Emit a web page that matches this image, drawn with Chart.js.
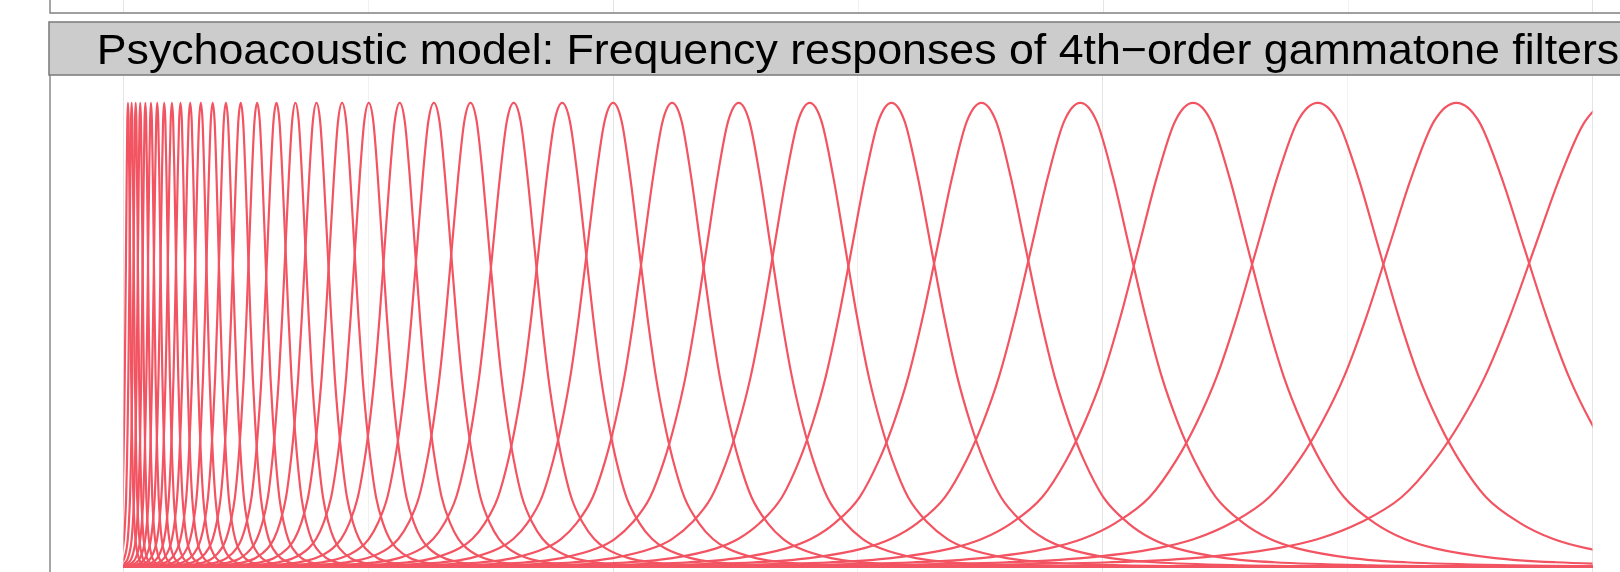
<!DOCTYPE html>
<html>
<head>
<meta charset="utf-8">
<title>Gammatone filter bank</title>
<script src="https://cdn.jsdelivr.net/npm/chart.js@4.4.1/dist/chart.umd.min.js"></script>
<style>
  html, body { margin: 0; padding: 0; background: #fff; overflow: hidden; }
  #gammatoneChart { display: block; }
</style>
</head>
<body>
<canvas id="gammatoneChart" width="1620" height="572"></canvas>
<script>
// Centre frequency of every filter in the bank (Hz), lowest first
var centerHz = [37, 67, 100, 137, 179, 225, 276, 333, 396, 466, 545, 632, 729, 837,
    958, 1092, 1250, 1405, 1577, 1786, 2004, 2257, 2536, 2835, 3188, 3584, 4000,
    4482, 5026, 5606, 6274, 7009, 7817, 8738, 9756, 10889, 12144];

// Bandwidth of each filter (Hz), same order as centerHz
var bandwidthHz = [35, 36, 37, 40, 45, 50, 56, 62, 69, 76, 85, 95, 105, 117,
    131, 145, 163, 180, 199, 222, 246, 274, 304, 337, 376, 420, 466,
    519, 579, 643, 716, 797, 886, 987, 1100, 1224, 1363];

// Magnitude of one filter at a given distance from its centre (in bandwidths)
var bwOffsets = [0, 0.15, 0.3, 0.45, 0.6, 0.75, 0.9, 1.05, 1.25, 1.5, 1.75, 2, 2.5, 3, 4, 5, 7, 10, 15, 25, 60, 200];
var responseLevels = [1, 0.96, 0.84, 0.69, 0.54, 0.41, 0.31, 0.23, 0.15, 0.095, 0.06, 0.04, 0.019, 0.01, 0.0035, 0.0015, 0.0004, 0.0001, 0, 0, 0, 0];

var freqMaxHz = 12000;
var gridStepHz = 2000;
var stripTitle = 'Psychoacoustic model: Frequency responses of 4th\u2212order gammatone filters';

var lineColor = '#F25462';
var frameColor = '#808080';

// one curve per filter, mirrored around its centre
var datasets = centerHz.map(function(fc, i) {
    var pts = [];
    var k;
    for (k = bwOffsets.length - 1; k > 0; k--) {
        pts.push({ x: fc - bwOffsets[k] * bandwidthHz[i], y: responseLevels[k] });
    }
    for (k = 0; k < bwOffsets.length; k++) {
        pts.push({ x: fc + bwOffsets[k] * bandwidthHz[i], y: responseLevels[k] });
    }
    return {
        label: Math.round(fc) + ' Hz',
        data: pts,
        borderColor: lineColor,
        borderWidth: 2.2,
        pointRadius: 0,
        fill: false,
        cubicInterpolationMode: 'monotone'
    };
});

// keep the curves inside the sampled frequency range
var freqClip = {
    id: 'freqClip',
    beforeDatasetsDraw: function(chart) {
        var x = chart.scales.x, a = chart.chartArea, ctx = chart.ctx;
        var x0 = x.getPixelForValue(0), x1 = x.getPixelForValue(freqMaxHz);
        ctx.save();
        ctx.beginPath();
        ctx.rect(x0, a.top, x1 - x0, a.bottom - a.top);
        ctx.clip();
    },
    afterDatasetsDraw: function(chart) {
        chart.ctx.restore();
    }
};

// facet strip, panel border and the bottom edge of the panel above
var facetFrame = {
    id: 'facetFrame',
    afterDraw: function(chart) {
        var x = chart.scales.x, a = chart.chartArea, ctx = chart.ctx;
        var left = a.left;
        var right = x.getPixelForValue(freqMaxHz + 600);
        var stripTop = a.top - 53;
        var abovePanelBottom = a.top - 62;
        ctx.save();

        // grid of the panel above
        for (var v = 0; v <= freqMaxHz; v += gridStepHz) {
            var px = Math.round(x.getPixelForValue(v)) + 0.5;
            ctx.strokeStyle = v % 4000 === 0 ? '#E4E4E4' : '#F1F1F1';
            ctx.lineWidth = 1;
            ctx.beginPath();
            ctx.moveTo(px, 0);
            ctx.lineTo(px, abovePanelBottom);
            ctx.stroke();
        }
        ctx.strokeStyle = frameColor;
        ctx.lineWidth = 1.4;
        ctx.beginPath();
        ctx.moveTo(left, 0);
        ctx.lineTo(left, abovePanelBottom);
        ctx.lineTo(right, abovePanelBottom);
        ctx.stroke();

        // strip
        ctx.fillStyle = '#CCCCCC';
        ctx.fillRect(left - 1, stripTop, right - left + 2, a.top - stripTop);
        ctx.strokeStyle = frameColor;
        ctx.lineWidth = 1.6;
        ctx.strokeRect(left - 1, stripTop, right - left + 2, a.top - stripTop);

        // strip label, centred on the panel and slightly widened
        ctx.save();
        ctx.translate(x.getPixelForValue(freqMaxHz / 2), a.top - 11.5);
        ctx.scale(1.04, 1);
        ctx.fillStyle = '#000000';
        ctx.font = '43px "Liberation Sans", Arial, Helvetica, sans-serif';
        ctx.textAlign = 'center';
        ctx.textBaseline = 'alphabetic';
        ctx.fillText(stripTitle, 0, 0);
        ctx.restore();

        // panel border
        ctx.strokeStyle = frameColor;
        ctx.lineWidth = 1.4;
        ctx.beginPath();
        ctx.moveTo(left, a.top);
        ctx.lineTo(left, a.bottom + 2);
        ctx.stroke();
        ctx.restore();
    }
};

new Chart(document.getElementById('gammatoneChart').getContext('2d'), {
    type: 'line',
    data: { datasets: datasets },
    options: {
        responsive: false,
        animation: false,
        parsing: false,
        layout: { padding: { left: 50, top: 75, right: 0, bottom: 0 } },
        plugins: {
            legend: { display: false },
            tooltip: { enabled: false },
            title: { display: false }
        },
        scales: {
            x: {
                type: 'linear',
                min: -600,
                max: 12225,
                afterBuildTicks: function(scale) {
                    var t = [];
                    for (var v = 0; v <= freqMaxHz; v += gridStepHz) t.push({ value: v });
                    scale.ticks = t;
                },
                ticks: { display: false },
                border: { display: false },
                grid: {
                    drawTicks: false,
                    lineWidth: 1,
                    color: function(c) {
                        return c.tick && c.tick.value % 4000 === 0 ? '#E4E4E4' : '#F1F1F1';
                    }
                }
            },
            y: {
                display: false,
                min: -0.011,
                max: 1.06
            }
        }
    },
    plugins: [freqClip, facetFrame]
});
</script>
</body>
</html>
